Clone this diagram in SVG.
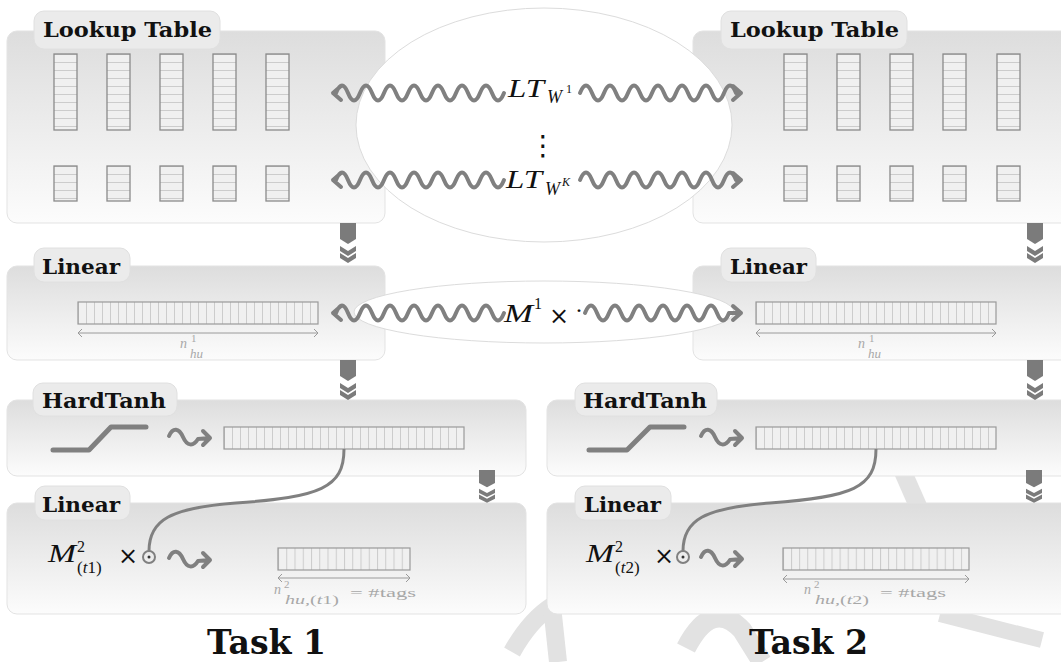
<svg xmlns="http://www.w3.org/2000/svg" width="1061" height="662" viewBox="0 0 1061 662">
<style>
.panel{fill:url(#pg);stroke:#e3e3e3;stroke-width:1}
.tag{fill:#ebebeb;stroke:#e0e0e0;stroke-width:1}
.title{font-family:"DejaVu Serif",serif;font-weight:bold;font-size:20px;fill:#111}
.task{font-family:"DejaVu Serif",serif;font-weight:bold;font-size:34px;fill:#111}
.col{stroke:#8a8a8a;stroke-width:1.3;fill:url(#rows)}
.bar{stroke:#999;stroke-width:1.2}
.wave{fill:none;stroke:#808080;stroke-width:4;stroke-linecap:round;stroke-linejoin:round}
.curve{fill:none;stroke:#808080;stroke-width:3}
.icon{fill:none;stroke:#808080;stroke-width:5;stroke-linecap:round;stroke-linejoin:round}
.math{font-family:"Liberation Serif",serif;font-style:italic;fill:#111}
.rm{font-family:"Liberation Serif",serif;fill:#111}
.times{font-family:"DejaVu Serif",serif;font-size:24px;fill:#111}
.dim{fill:none;stroke:#9a9a9a;stroke-width:1}
.dl{font-family:"Liberation Serif",serif;fill:#a8a8a8}
.chev{fill:#7b7b7b}
.ell{fill:#fff;stroke:#dcdcdc;stroke-width:1}
.wm{fill:none;stroke:#e2e2e2}
</style>
<defs>
<linearGradient id="pg" x1="0" y1="0" x2="0" y2="1">
<stop offset="0" stop-color="#dddddd"/>
<stop offset="1" stop-color="#fcfcfc"/>
</linearGradient>
<pattern id="rows" patternUnits="userSpaceOnUse" x="0" y="54" width="10" height="8">
<rect width="10" height="8" fill="#f0f0f0"/><path d="M0 0.5H10" stroke="#cccccc" stroke-width="1"/>
</pattern>
<pattern id="c78" patternUnits="userSpaceOnUse" x="78" y="0" width="8" height="10">
<rect width="8" height="10" fill="#f0f0f0"/><path d="M0.5 0V10" stroke="#cccccc" stroke-width="1"/>
</pattern>
<pattern id="c756" patternUnits="userSpaceOnUse" x="756" y="0" width="8" height="10">
<rect width="8" height="10" fill="#f0f0f0"/><path d="M0.5 0V10" stroke="#cccccc" stroke-width="1"/>
</pattern>
<pattern id="c224" patternUnits="userSpaceOnUse" x="224" y="0" width="8" height="10">
<rect width="8" height="10" fill="#f0f0f0"/><path d="M0.5 0V10" stroke="#cccccc" stroke-width="1"/>
</pattern>
<pattern id="c278" patternUnits="userSpaceOnUse" x="278" y="0" width="8.25" height="10">
<rect width="8.25" height="10" fill="#f0f0f0"/><path d="M0.5 0V10" stroke="#cccccc" stroke-width="1"/>
</pattern>
<pattern id="c783" patternUnits="userSpaceOnUse" x="783" y="0" width="8.087" height="10">
<rect width="8.087" height="10" fill="#f0f0f0"/><path d="M0.5 0V10" stroke="#cccccc" stroke-width="1"/>
</pattern>
<path id="wL" d="M333 0H336Q342 -15 348 0T360 0T372 0T384 0T396 0T408 0T420 0T432 0T444 0T456 0T468 0T480 0T492 0T504 0M341 -7L333 0L341 7"/>
<path id="wR" d="M580 0Q586 -15 592 0T604 0T616 0T628 0T640 0T652 0T664 0T676 0T688 0T700 0T712 0T724 0T736 0L741 0M733 -7L741 0L733 7"/>
<path id="wR2" d="M585 0Q591 -15 597 0T609 0T621 0T633 0T645 0T657 0T669 0T681 0T693 0T705 0T717 0T729 0L741 0M733 -7L741 0L733 7"/>
<path id="sq" d="M0 -1C4 -10 10 -9 14 0C18 9 24 10 29 2L41 1M34 -6L41 1L34 8"/>
<g id="chev">
<polygon points="-8,0 8,0 8,16 0,21 -8,16"/>
<polygon points="-8,23 0,28 8,23 8,28 0,33 -8,28"/>
<polygon points="-8,30 0,35 8,30 8,35 0,40 -8,35"/>
</g>
</defs>

<rect width="1061" height="662" fill="#ffffff"/>

<g id="watermark" class="wm">
<path d="M512 652Q530 620 552 606" stroke-width="18"/>
<path d="M552 606L558 662" stroke-width="18"/>
<path d="M686 648Q712 598 742 630L762 662" stroke-width="20"/>
<path d="M903 472L925 522" stroke-width="18"/>
<path d="M940 614L1042 640" stroke-width="16"/>
</g>

<g id="lookup-table-1">
<rect class="panel" x="7" y="31" width="378" height="192" rx="10"/>
<rect class="tag" x="34" y="11" width="186" height="38" rx="10"/>
<text class="title" x="43" y="37" textLength="169" lengthAdjust="spacingAndGlyphs">Lookup Table</text>
<rect class="col" x="54" y="54" width="23" height="76"/>
<rect class="col" x="107" y="54" width="23" height="76"/>
<rect class="col" x="160" y="54" width="23" height="76"/>
<rect class="col" x="213" y="54" width="23" height="76"/>
<rect class="col" x="266" y="54" width="23" height="76"/>
<rect class="col" x="54" y="166" width="23" height="35"/>
<rect class="col" x="107" y="166" width="23" height="35"/>
<rect class="col" x="160" y="166" width="23" height="35"/>
<rect class="col" x="213" y="166" width="23" height="35"/>
<rect class="col" x="266" y="166" width="23" height="35"/>
</g>

<g id="lookup-table-2">
<rect class="panel" x="693" y="31" width="380" height="192" rx="10"/>
<rect class="tag" x="721" y="11" width="186" height="38" rx="10"/>
<text class="title" x="730" y="37" textLength="169" lengthAdjust="spacingAndGlyphs">Lookup Table</text>
<rect class="col" x="784" y="54" width="23" height="76"/>
<rect class="col" x="837" y="54" width="23" height="76"/>
<rect class="col" x="890" y="54" width="23" height="76"/>
<rect class="col" x="943" y="54" width="23" height="76"/>
<rect class="col" x="997" y="54" width="23" height="76"/>
<rect class="col" x="784" y="166" width="23" height="35"/>
<rect class="col" x="837" y="166" width="23" height="35"/>
<rect class="col" x="890" y="166" width="23" height="35"/>
<rect class="col" x="943" y="166" width="23" height="35"/>
<rect class="col" x="997" y="166" width="23" height="35"/>
</g>

<g id="linear-1">
<rect class="panel" x="7" y="266" width="378" height="94" rx="10"/>
<rect class="tag" x="34" y="248" width="96" height="34" rx="10"/>
<text class="title" x="42" y="274" textLength="78" lengthAdjust="spacingAndGlyphs">Linear</text>
<rect class="bar" x="78" y="302" width="240" height="22" fill="url(#c78)"/>
<path class="dim" d="M78 333H318M82 329L78 333L82 337M314 329L318 333L314 337"/>
<text class="dl" font-style="italic" font-size="14" x="180" y="348">n</text>
<text class="dl" font-size="11" x="191" y="342">1</text>
<text class="dl" font-style="italic" font-size="13" x="190" y="358">hu</text>
</g>

<g id="linear-2">
<rect class="panel" x="693" y="266" width="380" height="94" rx="10"/>
<rect class="tag" x="721" y="248" width="95" height="34" rx="10"/>
<text class="title" x="730" y="274" textLength="77" lengthAdjust="spacingAndGlyphs">Linear</text>
<rect class="bar" x="756" y="302" width="240" height="22" fill="url(#c756)"/>
<path class="dim" d="M756 333H996M760 329L756 333L760 337M992 329L996 333L992 337"/>
<text class="dl" font-style="italic" font-size="14" x="858" y="348">n</text>
<text class="dl" font-size="11" x="869" y="342">1</text>
<text class="dl" font-style="italic" font-size="13" x="868" y="358">hu</text>
</g>

<g id="hardtanh-1">
<rect class="panel" x="7" y="400" width="519" height="76" rx="10"/>
<rect class="tag" x="33" y="383" width="144" height="33" rx="10"/>
<text class="title" x="42" y="408" textLength="124" lengthAdjust="spacingAndGlyphs">HardTanh</text>
<polyline class="icon" points="53,450 89,450 111,427 146,427"/>
<rect class="bar" x="224" y="427" width="240" height="22" fill="url(#c224)"/>
</g>

<g id="hardtanh-2">
<rect class="panel" x="547" y="400" width="526" height="76" rx="10"/>
<rect class="tag" x="575" y="383" width="142" height="33" rx="10"/>
<text class="title" x="583" y="408" textLength="124" lengthAdjust="spacingAndGlyphs">HardTanh</text>
<polyline class="icon" points="589,450 627,450 650,427 684,427"/>
<rect class="bar" x="756" y="427" width="240" height="22" fill="url(#c756)"/>
</g>

<g id="linear-out-1">
<rect class="panel" x="7" y="503" width="519" height="111" rx="10"/>
<rect class="tag" x="35" y="486" width="95" height="34" rx="10"/>
<text class="title" x="42" y="512" textLength="78" lengthAdjust="spacingAndGlyphs">Linear</text>
<text class="math" x="48" y="562" font-size="25" textLength="28" lengthAdjust="spacingAndGlyphs">M</text>
<text class="rm" x="77" y="552" font-size="16">2</text>
<text class="rm" x="77" y="573" font-size="17">(<tspan font-style="italic">t</tspan>1)</text>
<text class="times" x="118" y="564">×</text>
<circle cx="149" cy="557" r="6" fill="none" stroke="#808080" stroke-width="2"/>
<circle cx="149" cy="557" r="1.5" fill="#333"/>
<rect class="bar" x="278" y="548" width="132" height="22" fill="url(#c278)"/>
<path class="dim" d="M278 578H410M282 574L278 578L282 582M406 574L410 578L406 582"/>
<text class="dl" font-style="italic" font-size="14" x="274" y="594">n</text>
<text class="dl" font-size="11" x="284" y="588">2</text>
<text class="dl" font-size="13" x="285" y="604" textLength="54" lengthAdjust="spacingAndGlyphs"><tspan font-style="italic">hu,</tspan>(<tspan font-style="italic">t</tspan>1)</text>
<text class="dl" font-size="13" x="350" y="597" textLength="66" lengthAdjust="spacingAndGlyphs">= #tags</text>
</g>

<g id="linear-out-2">
<rect class="panel" x="547" y="503" width="526" height="111" rx="10"/>
<rect class="tag" x="575" y="486" width="96" height="34" rx="10"/>
<text class="title" x="584" y="512" textLength="77" lengthAdjust="spacingAndGlyphs">Linear</text>
<text class="math" x="586" y="562" font-size="25" textLength="28" lengthAdjust="spacingAndGlyphs">M</text>
<text class="rm" x="615" y="552" font-size="16">2</text>
<text class="rm" x="615" y="573" font-size="17">(<tspan font-style="italic">t</tspan>2)</text>
<text class="times" x="654" y="564">×</text>
<circle cx="683" cy="557" r="6" fill="none" stroke="#808080" stroke-width="2"/>
<circle cx="683" cy="557" r="1.5" fill="#333"/>
<rect class="bar" x="783" y="548" width="186" height="22" fill="url(#c783)"/>
<path class="dim" d="M783 579H969M787 575L783 579L787 583M965 575L969 579L965 583"/>
<text class="dl" font-style="italic" font-size="14" x="804" y="594">n</text>
<text class="dl" font-size="11" x="814" y="588">2</text>
<text class="dl" font-size="13" x="815" y="604" textLength="54" lengthAdjust="spacingAndGlyphs"><tspan font-style="italic">hu,</tspan>(<tspan font-style="italic">t</tspan>2)</text>
<text class="dl" font-size="13" x="880" y="597" textLength="66" lengthAdjust="spacingAndGlyphs">= #tags</text>
</g>

<g id="shared-lookup">
<ellipse class="ell" cx="544" cy="125" rx="188" ry="117"/>
<text class="math" x="508" y="97" font-size="26" textLength="36" lengthAdjust="spacingAndGlyphs">LT</text>
<text class="math" x="547" y="103" font-size="18">W</text>
<text class="rm" x="566" y="93" font-size="12">1</text>
<text font-family="DejaVu Sans, sans-serif" font-size="28" x="543" y="155" text-anchor="middle" fill="#111">⋮</text>
<text class="math" x="506" y="188" font-size="26" textLength="36" lengthAdjust="spacingAndGlyphs">LT</text>
<text class="math" x="545" y="195" font-size="18">W</text>
<text class="math" x="562" y="186" font-size="12">K</text>
</g>

<g id="shared-linear">
<ellipse class="ell" cx="544" cy="312" rx="190" ry="31"/>
<text class="math" x="504" y="322" font-size="26" textLength="29" lengthAdjust="spacingAndGlyphs">M</text>
<text class="rm" x="534" y="309" font-size="16">1</text>
<text class="times" x="549" y="324">×</text>
<text class="rm" x="575" y="318" font-size="24">·</text>
</g>

<g id="connectors">
<use href="#wL" class="wave" transform="translate(0,93)"/>
<use href="#wR" class="wave" transform="translate(0,93)"/>
<use href="#wL" class="wave" transform="translate(0,180)"/>
<use href="#wR" class="wave" transform="translate(0,180)"/>
<use href="#wL" class="wave" transform="translate(0,313)"/>
<use href="#wR2" class="wave" transform="translate(0,313)"/>
<use href="#sq" class="wave" transform="translate(169,437)"/>
<use href="#sq" class="wave" transform="translate(701,437)"/>
<use href="#sq" class="wave" transform="translate(169,559)"/>
<use href="#sq" class="wave" transform="translate(701,558)"/>
<path class="curve" d="M344 449C344 488 320 497 236 503C170 508 149 520 149 551"/>
<path class="curve" d="M876 449C876 488 852 497 770 503C704 508 683 520 683 551"/>
<use href="#chev" class="chev" transform="translate(348,223)"/>
<use href="#chev" class="chev" transform="translate(1035,223)"/>
<use href="#chev" class="chev" transform="translate(348,360)"/>
<use href="#chev" class="chev" transform="translate(1035,360)"/>
<use href="#chev" class="chev" transform="translate(487,470) scale(1,0.82)"/>
<use href="#chev" class="chev" transform="translate(1034,470) scale(1,0.82)"/>
</g>

<g id="task-labels">
<text class="task" x="207" y="654" textLength="119" lengthAdjust="spacingAndGlyphs">Task 1</text>
<text class="task" x="749" y="654" textLength="119" lengthAdjust="spacingAndGlyphs">Task 2</text>
</g>
</svg>
